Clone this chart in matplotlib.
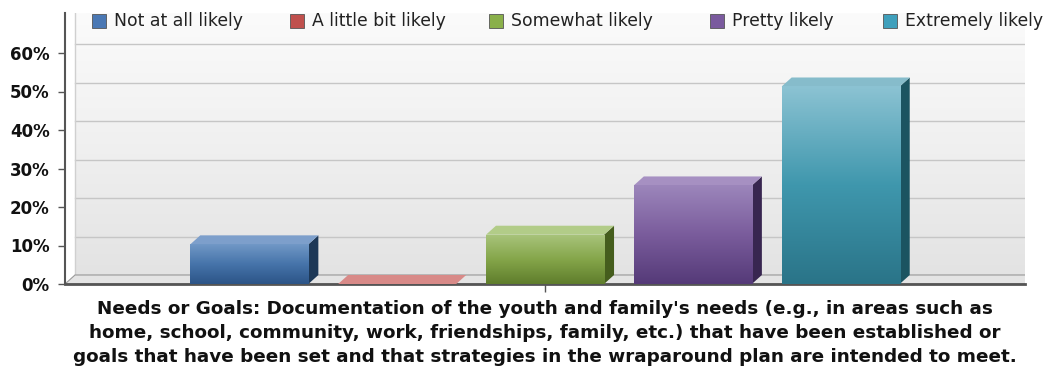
import numpy as np
import matplotlib.pyplot as plt
from matplotlib.patches import Polygon, Rectangle
from matplotlib.colors import LinearSegmentedColormap

plt.rcParams['font.family'] = ['DejaVu Sans']

# survey responses (percent of respondents)
series = ['Not at all likely', 'A little bit likely', 'Somewhat likely',
          'Pretty likely', 'Extremely likely']
values = [10.3, 0.0, 12.8, 25.6, 51.3]
yticks = [0, 10, 20, 30, 40, 50, 60]
question = ["Needs or Goals: Documentation of the youth and family's needs (e.g., in areas such as",
            "home, school, community, work, friendships, family, etc.) that have been established or",
            "goals that have been set and that strategies in the wraparound plan are intended to meet."]

# colours per series: bottom, middle, top of the front face, side face, top face
front_bot = ['#2c5487', '#a03a38', '#5f7d2c', '#553a78', '#2a7488']
front_mid = ['#4674aa', '#c0504d', '#85a64a', '#7a5c9c', '#3f97ad']
front_top = ['#7198c6', '#d98a88', '#a9c47c', '#9c86bb', '#8cc3d3']
side_col = ['#1d3857', '#6a2524', '#455d1d', '#382650', '#1b5461']
top_col = ['#7d9fcb', '#d88a88', '#b2cc88', '#a690c2', '#86bccb']
legend_col = ['#4a78b4', '#c0504d', '#8ab04a', '#7a5a9e', '#3fa0bc']

W, H = 1047, 366
fig = plt.figure(figsize=(W / 100, H / 100), dpi=100)
ax_left, ax_right, ax_bot, ax_top = 65, 1025, 284, 13
ax = fig.add_axes([ax_left / W, 1 - ax_bot / H, (ax_right - ax_left) / W, (ax_bot - ax_top) / H])

ymax = (ax_bot - ax_top) / 38.5 * 10
dx = 10 / (ax_right - ax_left)     # depth offset in x (data units)
dy = 9 / 38.5 * 10                 # depth offset in y (percent units)
x_lo, x_hi = -0.5, 0.5

# back wall with soft vertical gradient
wall = LinearSegmentedColormap.from_list('wall', ['#e3e3e3', '#f0f0f0', '#fbfbfb'])
g = np.linspace(0, 1, 256).reshape(-1, 1)
ax.imshow(g, extent=[x_lo + dx, x_hi + dx, dy, ymax], origin='lower', cmap=wall,
          aspect='auto', zorder=0)

# gridlines on the back wall
for v in yticks:
    ax.plot([x_lo + dx, x_hi + dx], [v + dy, v + dy], color='#c6c6c6', lw=1, zorder=1)
ax.plot([x_lo + dx, x_lo + dx], [dy, ymax], color='#d0d0d0', lw=1, zorder=1)

# floor
floor = Polygon([(x_lo, 0), (x_hi, 0), (x_hi + dx, dy), (x_lo + dx, dy)],
                closed=True, facecolor='#e4e4e4', edgecolor='#9a9a9a', lw=0.8, zorder=1)
ax.add_patch(floor)

pitch = 0.154
bw = 0.123
for i, (name, v) in enumerate(zip(series, values)):
    xc = (i - 2) * pitch
    x0, x1 = xc - bw / 2, xc + bw / 2
    if v > 0:
        bar = ax.bar(xc, v, width=bw, color=front_mid[i], lw=0, zorder=3)[0]
        cmap = LinearSegmentedColormap.from_list(
            name, [front_bot[i], front_mid[i], front_top[i]])
        im = ax.imshow(g, extent=[x0, x1, 0, v], origin='lower', cmap=cmap,
                       aspect='auto', zorder=3.5)
        im.set_clip_path(bar)
        ax.add_patch(Polygon([(x1, 0), (x1 + dx, dy), (x1 + dx, v + dy), (x1, v)],
                             closed=True, facecolor=side_col[i], lw=0, zorder=3))
    ax.add_patch(Polygon([(x0, v), (x1, v), (x1 + dx, v + dy), (x0 + dx, v + dy)],
                         closed=True, facecolor=top_col[i], lw=0, zorder=3))

ax.set_xlim(x_lo, x_hi)
ax.set_ylim(0, ymax)
ax.set_yticks(yticks)
ax.set_yticklabels([f'{t}%' for t in yticks], fontweight='bold', fontsize=12,
                   color='#111111')
ax.set_xticks([0])
ax.set_xticklabels([''])
ax.tick_params(axis='y', length=5, width=1, color='#555555', pad=6)
ax.tick_params(axis='x', length=6, width=1, color='#555555')
for s in ['top', 'right']:
    ax.spines[s].set_visible(False)
ax.spines['left'].set_color('#555555')
ax.spines['left'].set_linewidth(1.5)
ax.spines['bottom'].set_color('#555555')
ax.spines['bottom'].set_linewidth(2)
ax.set_facecolor('none')

# legend row across the top
sq_x = [92, 290, 489, 710, 883]
for i, name in enumerate(series):
    fig.patches.append(Rectangle((sq_x[i] / W, 1 - 28 / H), 14 / W, 14 / H,
                                 transform=fig.transFigure, facecolor=legend_col[i],
                                 edgecolor='#555555', lw=0.6))
    fig.text((sq_x[i] + 22) / W, 1 - 21 / H, name, fontsize=12.4, va='center',
             ha='left', color='#222222')

# question text under the axis, one line at a time
for k, line in enumerate(question):
    fig.text(545 / W, 1 - (314.5 + 23.8 * k) / H, line, ha='center', va='baseline',
             fontsize=13.25, fontweight='bold', color='#111111')

fig.savefig('out.png', dpi=100)
